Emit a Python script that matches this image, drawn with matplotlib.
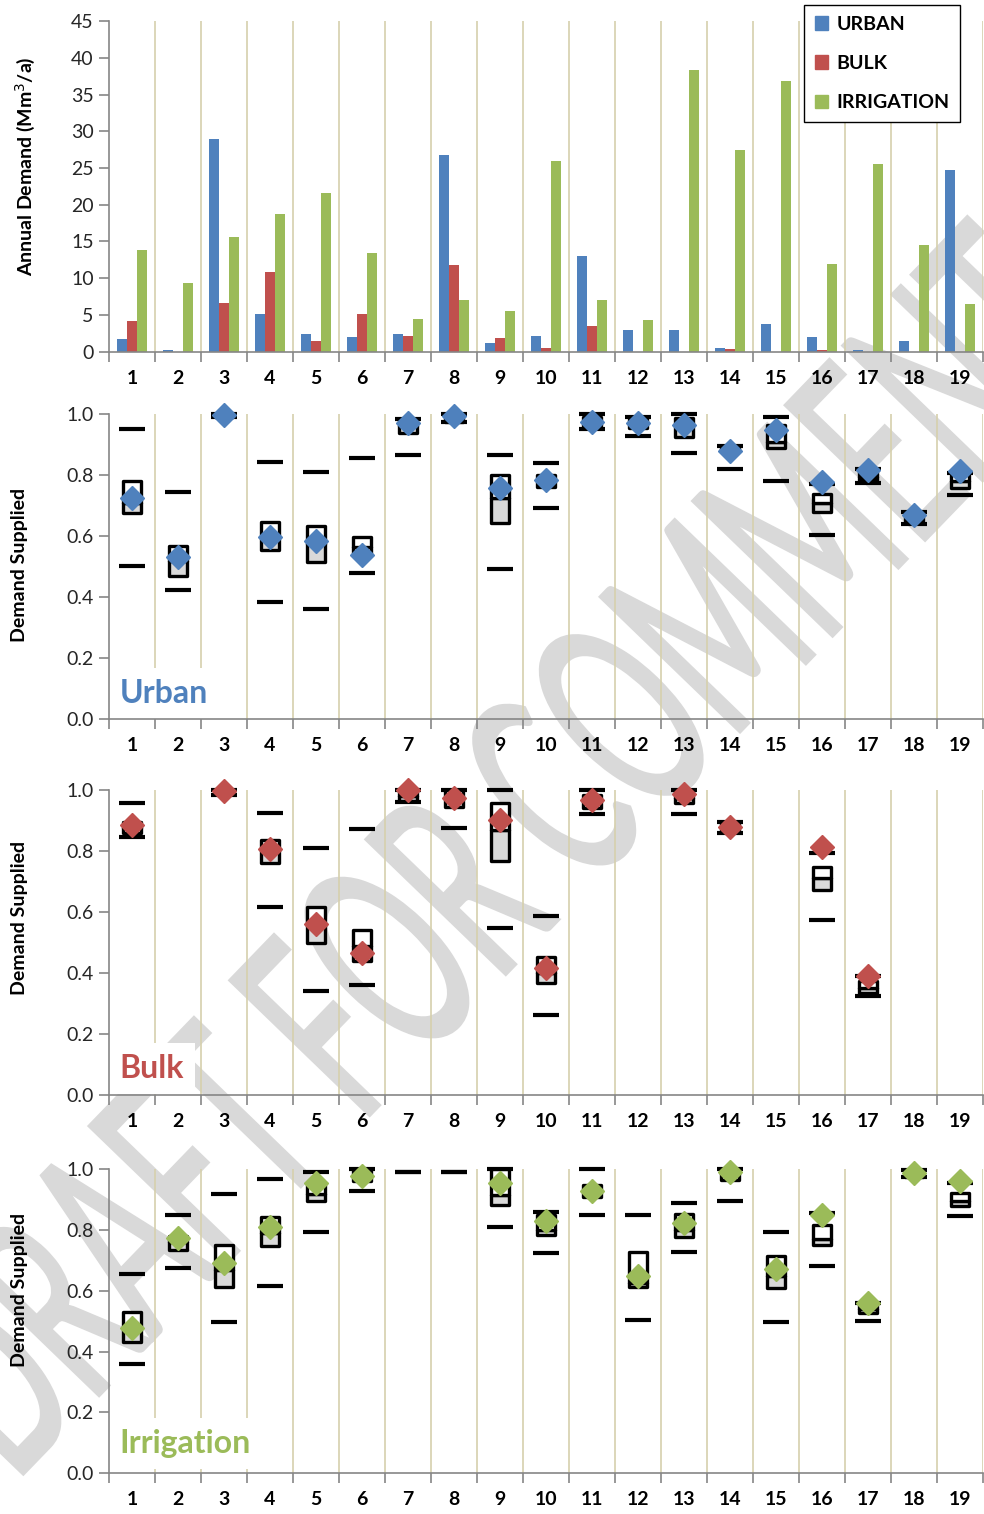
import numpy as np
import matplotlib.pyplot as plt
from matplotlib.patches import Patch, PathPatch
from matplotlib.textpath import TextPath
from matplotlib.font_manager import FontProperties
from matplotlib.transforms import Affine2D

plt.rcParams['font.family'] = ['Lato', 'DejaVu Sans']

cats = np.arange(1, 20)
nan = np.nan

# annual demand (Mm3/a)
urban_demand = [1.7, 0.2, 29.0, 5.1, 2.4, 1.95, 2.4, 26.8, 1.2, 2.1,
                13.0, 3.0, 2.9, 0.45, 3.8, 1.95, 0.2, 1.5, 24.7]
bulk_demand = [4.2, 0.0, 6.6, 10.8, 1.4, 5.1, 2.1, 11.8, 1.8, 0.45,
               3.45, 0.0, 0.0, 0.3, 0.0, 0.2, 0.0, 0.0, 0.0]
irr_demand = [13.9, 9.4, 15.6, 18.7, 21.55, 13.5, 4.5, 7.0, 5.5, 25.9,
              7.0, 4.35, 38.4, 27.5, 36.8, 12.0, 25.6, 14.5, 6.5]

# demand supplied: whisker high, box top, median, box bottom, whisker low, actual
urban_hi = [0.953, 0.744, 1.0, 0.842, 0.810, 0.856, 0.985, 1.0, 0.867, 0.839,
            1.0, 0.992, 1.0, 0.895, 0.99, 0.770, 0.82, 0.68, 0.807]
urban_q3 = [0.781, 0.569, 1.0, 0.648, 0.635, 0.598, 0.98, 1.0, 0.801, 0.80,
            0.99, 0.985, 0.987, 0.89, 0.965, 0.739, 0.815, 0.68, 0.80]
urban_med = [0.71, 0.52, 0.995, 0.60, 0.575, 0.565, 0.96, 0.99, 0.725, 0.78,
             0.975, 0.97, 0.96, 0.885, 0.91, 0.708, 0.795, 0.665, 0.78]
urban_q1 = [0.675, 0.471, 0.99, 0.555, 0.515, 0.535, 0.94, 0.976, 0.645, 0.763,
            0.96, 0.955, 0.927, 0.878, 0.889, 0.678, 0.785, 0.65, 0.757]
urban_lo = [0.504, 0.424, 0.99, 0.384, 0.362, 0.479, 0.867, 0.975, 0.492, 0.691,
            0.952, 0.929, 0.874, 0.82, 0.781, 0.604, 0.775, 0.64, 0.736]
urban_act = [0.725, 0.533, 0.998, 0.596, 0.586, 0.539, 0.97, 0.995, 0.757, 0.785,
             0.976, 0.97, 0.965, 0.878, 0.949, 0.777, 0.817, 0.670, 0.815]

bulk_hi = [0.958, nan, 1.0, 0.926, 0.81, 0.871, 1.0, 1.0, 1.0, 0.587,
           1.0, nan, 1.0, 0.896, nan, 0.792, 0.39, nan, nan]
bulk_q3 = [0.895, nan, 1.0, 0.836, 0.617, 0.541, 0.995, 1.0, 0.956, 0.451,
           0.985, nan, 1.0, 0.893, nan, 0.749, 0.375, nan, nan]
bulk_med = [0.875, nan, 0.995, 0.80, 0.555, 0.49, 0.98, 0.97, 0.869, 0.40,
            0.96, nan, 0.975, 0.88, nan, 0.710, 0.35, nan, nan]
bulk_q1 = [0.86, nan, 0.987, 0.762, 0.499, 0.440, 0.965, 0.945, 0.768, 0.366,
           0.94, nan, 0.956, 0.862, nan, 0.672, 0.335, nan, nan]
bulk_lo = [0.847, nan, 0.985, 0.615, 0.342, 0.361, 0.962, 0.874, 0.546, 0.262,
           0.921, nan, 0.921, 0.86, nan, 0.573, 0.325, nan, nan]
bulk_act = [0.885, nan, 0.998, 0.807, 0.561, 0.467, 1.0, 0.973, 0.902, 0.415,
            0.967, nan, 0.987, 0.878, nan, 0.812, 0.39, nan, nan]

irr_hi = [0.656, 0.851, 0.917, 0.967, 0.992, 1.0, 0.99, 0.992, 1.0, 0.861,
          1.0, 0.851, 0.888, 1.0, 0.793, 0.855, 0.56, 0.996, 0.954]
irr_q3 = [0.532, 0.781, 0.751, 0.842, 0.954, 1.0, nan, nan, 1.0, 0.85,
          0.948, 0.729, 0.853, 1.0, 0.715, 0.817, 0.559, 0.996, 0.921]
irr_med = [0.48, 0.76, 0.67, 0.79, 0.92, 0.98, nan, nan, 0.915, 0.80,
           0.93, 0.625, 0.80, 0.985, 0.65, 0.77, 0.54, 0.985, 0.896]
irr_q1 = [0.431, 0.735, 0.614, 0.748, 0.894, 0.96, nan, nan, 0.883, 0.784,
          0.91, 0.614, 0.776, 0.965, 0.609, 0.751, 0.526, 0.974, 0.879]
irr_lo = [0.36, 0.674, 0.497, 0.616, 0.793, 0.93, 0.99, 0.992, 0.811, 0.724,
          0.848, 0.504, 0.728, 0.894, 0.497, 0.682, 0.501, 0.974, 0.846]
irr_act = [0.479, 0.773, 0.691, 0.809, 0.954, 0.978, nan, nan, 0.956, 0.831,
           0.93, 0.650, 0.822, 0.99, 0.672, 0.85, 0.559, 0.987, 0.96]

blue = '#4f81bd'
red = '#c0504d'
green = '#9bbb59'
gridc = '#d6d0ad'
axc = '#868686'

fig = plt.figure(figsize=(9.84, 15.14), dpi=100)

# watermark behind everything
tp = TextPath((0, 0), "DRAFT FOR COMMENT", size=100,
              prop=FontProperties(family='Lato'))
ext = tp.get_extents()
sx = 1560 / ext.width
sy = 195 / 72.0
tr = (Affine2D().translate(-(ext.x0 + ext.width / 2), -36)
      .scale(sx, sy).rotate_deg(46).translate(495, 1514 - 845))
fig.add_artist(PathPatch(tp, transform=tr, facecolor='#d9d9d9',
                         edgecolor='#d9d9d9', linewidth=2.5, zorder=-10))


def style_axis(ax):
    ax.patch.set_alpha(0)
    ax.set_xlim(0.5, 19.5)
    ax.set_xticks(np.arange(0.5, 19.6, 1))
    ax.set_xticklabels([])
    ax.set_xticks(cats, minor=True)
    ax.set_xticklabels([str(c) for c in cats], minor=True,
                       fontweight='bold', fontsize=14)
    ax.tick_params(axis='x', which='minor', length=0, pad=13)
    ax.tick_params(axis='x', which='major', length=7, width=1.2, color=axc)
    ax.tick_params(axis='y', length=7, width=1.2, color=axc,
                   labelsize=14, labelcolor='#262626', pad=4)
    for s in ['top', 'right']:
        ax.spines[s].set_visible(False)
    for s in ['left', 'bottom']:
        ax.spines[s].set_color(axc)
        ax.spines[s].set_linewidth(1.2)
    for x in np.arange(1.5, 19.6, 1):
        ax.axvline(x, color=gridc, lw=1.2, zorder=0)


# top: annual demand bars
ax0 = fig.add_axes([0.1108, 0.7677, 0.8882, 0.2184])
style_axis(ax0)
w = 0.22
ax0.bar(cats - w, urban_demand, w, color=blue, zorder=2)
ax0.bar(cats, bulk_demand, w, color=red, zorder=2)
ax0.bar(cats + w, irr_demand, w, color=green, zorder=2)
ax0.set_ylim(0, 45)
ax0.set_yticks(np.arange(0, 46, 5))
fig.text(25 / 984, 1 - 166 / 1514, 'Annual Demand (Mm$^3$/a)', rotation=90,
         ha='center', va='center', fontsize=14, fontweight='bold')

handles = [Patch(color=blue), Patch(color=red), Patch(color=green)]
leg = fig.legend(handles, ['URBAN', 'BULK', 'IRRIGATION'], loc='upper right',
                 bbox_to_anchor=(960 / 984, 1 - 5 / 1514), borderaxespad=0,
                 fancybox=False, edgecolor='black', framealpha=1,
                 handlelength=0.7, handleheight=0.7, handletextpad=0.4,
                 labelspacing=1.15, borderpad=0.55,
                 prop={'weight': 'bold', 'size': 14})
leg.get_frame().set_linewidth(1.0)


def box_panel(rect, hi, q3, med, q1, lo, act, color, name, label_y, ylab_y):
    ax = fig.add_axes(rect)
    style_axis(ax)
    hi, q3, med, q1, lo, act = [np.array(v, dtype=float)
                                for v in (hi, q3, med, q1, lo, act)]
    bw = 0.41
    ax.bar(cats, med - q1, bw, bottom=q1, color='#d9d9d9', edgecolor='black',
           linewidth=2.4, joinstyle='round', zorder=3, clip_on=False)
    ax.bar(cats, q3 - med, bw, bottom=med, color='white', edgecolor='black',
           linewidth=2.4, joinstyle='round', zorder=3, clip_on=False)
    ax.hlines(hi, cats - 0.29, cats + 0.29, colors='black', lw=3, zorder=3,
              clip_on=False)
    ax.hlines(lo, cats - 0.29, cats + 0.29, colors='black', lw=3, zorder=3,
              clip_on=False)
    ax.plot(cats, act, 'D', color=color, ms=12.5, ls='none', zorder=5,
            clip_on=False)
    ax.set_ylim(0, 1.0)
    ax.set_yticks(np.arange(0, 1.01, 0.2))
    ax.set_yticklabels(['%.1f' % v for v in np.arange(0, 1.01, 0.2)])
    ax.text(0.012, label_y, name, transform=ax.transAxes, fontsize=23,
            fontweight='bold', color=color, va='baseline', zorder=1,
            bbox=dict(facecolor='white', edgecolor='none', pad=8))
    fig.text(20 / 984, 1 - ylab_y / 1514, 'Demand Supplied', rotation=90,
             ha='center', va='center', fontsize=14, fontweight='bold')
    return ax


box_panel([0.1108, 0.5249, 0.8882, 0.2015], urban_hi, urban_q3, urban_med,
          urban_q1, urban_lo, urban_act, blue, 'Urban', 0.053, 565)
box_panel([0.1108, 0.2768, 0.8882, 0.2014], bulk_hi, bulk_q3, bulk_med,
          bulk_q1, bulk_lo, bulk_act, red, 'Bulk', 0.056, 918)
box_panel([0.1108, 0.0269, 0.8882, 0.2008], irr_hi, irr_q3, irr_med,
          irr_q1, irr_lo, irr_act, green, 'Irrigation', 0.067, 1290)

fig.savefig('out.png', dpi=100)
